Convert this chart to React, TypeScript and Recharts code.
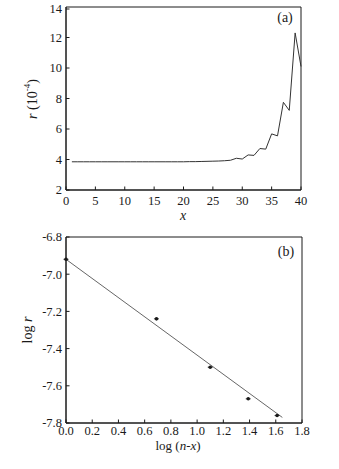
import { ComposedChart, Line, LineChart, ReferenceArea, Scatter, XAxis, YAxis } from 'recharts';

// panel (a): r (10^-4) versus x
const xValues = [
  1, 2, 3, 4, 5, 6, 7, 8, 9, 10, 11, 12, 13, 14, 15, 16, 17, 18, 19, 20,
  21, 22, 23, 24, 25, 26, 27, 28, 29, 30, 31, 32, 33, 34, 35, 36, 37, 38, 39, 40,
];
const rValues = [
  3.85, 3.85, 3.85, 3.85, 3.85, 3.85, 3.85, 3.85, 3.85, 3.85,
  3.85, 3.85, 3.85, 3.85, 3.85, 3.85, 3.85, 3.85, 3.85, 3.85,
  3.86, 3.86, 3.87, 3.88, 3.89, 3.9, 3.92, 3.95, 4.08, 4.03,
  4.3, 4.27, 4.72, 4.68, 5.68, 5.55, 7.75, 7.22, 12.3, 10.1,
];
const xTicksA = [0, 5, 10, 15, 20, 25, 30, 35, 40];
const yTicksA = [2, 4, 6, 8, 10, 12, 14];

// panel (b): log r versus log (n-x)
const logNX = [0, 0.69, 1.1, 1.39, 1.61];
const logR = [-6.92, -7.24, -7.5, -7.67, -7.76];
const fitX = [0, 1.65];
const fitY = [-6.92, -7.77];
const xTicksB = [0, 0.2, 0.4, 0.6, 0.8, 1.0, 1.2, 1.4, 1.6, 1.8];
const yTicksB = [-7.8, -7.7, -7.6, -7.5, -7.4, -7.3, -7.2, -7.1, -7.0, -6.9, -6.8];

const dataA = xValues.map((x, i) => ({ x, r: rValues[i] }));
const pointsB = logNX.map((x, i) => ({ x, y: logR[i] }));
const fitB = fitX.map((x, i) => ({ x, y: fitY[i] }));

const FONT = '"Liberation Serif", serif';
const INK = '#1a1a1a';
const TICK_FS = 12.5;
const Y_MARGIN = 4;
const TICK_LEN = 3.5;
const axisStroke = { stroke: INK, strokeWidth: 1 };

// inward tick mark + label, bottom axis
function XTick({ x, y, payload, digits, gap }: any) {
  const axisY = y - gap;
  const label = digits ? payload.value.toFixed(digits) : String(payload.value);
  return (
    <g>
      <line x1={x} x2={x} y1={axisY} y2={axisY - TICK_LEN} stroke={INK} strokeWidth={1} />
      <text x={x} y={y} dy="0.71em" textAnchor="middle" fontSize={TICK_FS} fill={INK} fontFamily={FONT}>
        {label}
      </text>
    </g>
  );
}

// inward tick mark + label, left axis; minor ticks (odd tenths) get no label
function YTick({ x, y, payload, digits, everyOther }: any) {
  const axisX = x + Y_MARGIN;
  const showLabel = !everyOther || Math.round(payload.value * 10) % 2 === 0;
  const label = digits ? payload.value.toFixed(digits) : String(payload.value);
  return (
    <g>
      <line x1={axisX} x2={axisX + TICK_LEN} y1={y} y2={y} stroke={INK} strokeWidth={1} />
      {showLabel && (
        <text x={x} y={y} dy="0.35em" textAnchor="end" fontSize={TICK_FS} fill={INK} fontFamily={FONT}>
          {label}
        </text>
      )}
    </g>
  );
}

function Dot({ cx, cy }: any) {
  return (
    <g>
      <circle cx={cx} cy={cy} r={1.8} fill={INK} />
      <line x1={cx - 2.5} x2={cx + 2.5} y1={cy} y2={cy} stroke={INK} strokeWidth={0.8} />
    </g>
  );
}

export default function App() {
  return (
    <div
      style={{
        position: 'absolute',
        left: 0,
        top: 0,
        width: 339,
        height: 469,
        background: '#fff',
        fontFamily: FONT,
      }}
    >
      <div style={{ position: 'absolute', left: 0, top: 0 }}>
        <LineChart width={339} height={225} data={dataA} margin={{ top: 7, right: 38, left: 0, bottom: 0 }}>
          <XAxis
            dataKey="x"
            type="number"
            domain={[0, 40]}
            ticks={xTicksA}
            height={35}
            tickSize={0}
            tickMargin={6}
            tick={<XTick gap={6} />}
            tickLine={false}
            axisLine={axisStroke}
            label={{
              content: () => (
                <text x={183} y={220} textAnchor="middle" fontStyle="italic" fontSize={14} fill={INK} fontFamily={FONT}>
                  x
                </text>
              ),
            }}
          />
          <YAxis
            type="number"
            domain={[2, 14]}
            ticks={yTicksA}
            width={66}
            tickSize={0}
            tickMargin={Y_MARGIN}
            tick={<YTick />}
            tickLine={false}
            axisLine={axisStroke}
            label={{
              content: () => (
                <text
                  x={32}
                  y={99}
                  transform="rotate(-90 32 99)"
                  textAnchor="middle"
                  dominantBaseline="central"
                  fontSize={14}
                  fill={INK}
                  fontFamily={FONT}
                >
                  <tspan fontStyle="italic">r</tspan>
                  <tspan> (10</tspan>
                  <tspan fontSize={9} dy={-5}>-4</tspan>
                  <tspan dy={5}>)</tspan>
                </text>
              ),
            }}
          />
          <ReferenceArea
            x1={0}
            x2={40}
            y1={2}
            y2={14}
            fill="none"
            stroke={INK}
            strokeWidth={1}
            label={{
              content: () => (
                <text x={285} y={22} textAnchor="middle" fontSize={14} fill={INK} fontFamily={FONT}>
                  (a)
                </text>
              ),
            }}
          />
          <Line
            dataKey="r"
            type="linear"
            stroke="#333"
            strokeWidth={1}
            dot={false}
            isAnimationActive={false}
          />
        </LineChart>
      </div>

      <div style={{ position: 'absolute', left: 0, top: 225 }}>
        <ComposedChart width={339} height={244} margin={{ top: 12, right: 37, left: 0, bottom: 0 }}>
          <XAxis
            dataKey="x"
            type="number"
            domain={[0, 1.8]}
            ticks={xTicksB}
            height={46}
            tickSize={0}
            tickMargin={3}
            tick={<XTick digits={1} gap={3} />}
            tickLine={false}
            axisLine={axisStroke}
            label={{
              content: () => (
                <text x={178} y={225} textAnchor="middle" fontSize={13} fill={INK} fontFamily={FONT}>
                  log (<tspan fontStyle="italic">n-x</tspan>)
                </text>
              ),
            }}
          />
          <YAxis
            dataKey="y"
            type="number"
            domain={[-7.8, -6.8]}
            ticks={yTicksB}
            width={66}
            tickSize={0}
            tickMargin={Y_MARGIN}
            tick={<YTick digits={1} everyOther />}
            tickLine={false}
            axisLine={axisStroke}
            label={{
              content: () => (
                <text
                  x={27}
                  y={105}
                  transform="rotate(-90 27 105)"
                  textAnchor="middle"
                  dominantBaseline="central"
                  fontSize={14}
                  fill={INK}
                  fontFamily={FONT}
                >
                  log <tspan fontStyle="italic">r</tspan>
                </text>
              ),
            }}
          />
          <ReferenceArea
            x1={0}
            x2={1.8}
            y1={-7.8}
            y2={-6.8}
            fill="none"
            stroke={INK}
            strokeWidth={1}
            label={{
              content: () => (
                <text x={286} y={31} textAnchor="middle" fontSize={14} fill={INK} fontFamily={FONT}>
                  (b)
                </text>
              ),
            }}
          />
          <Line
            data={fitB}
            dataKey="y"
            type="linear"
            stroke="#555"
            strokeWidth={0.9}
            dot={false}
            isAnimationActive={false}
          />
          <Scatter data={pointsB} dataKey="y" shape={<Dot />} isAnimationActive={false} />
        </ComposedChart>
      </div>
    </div>
  );
}
